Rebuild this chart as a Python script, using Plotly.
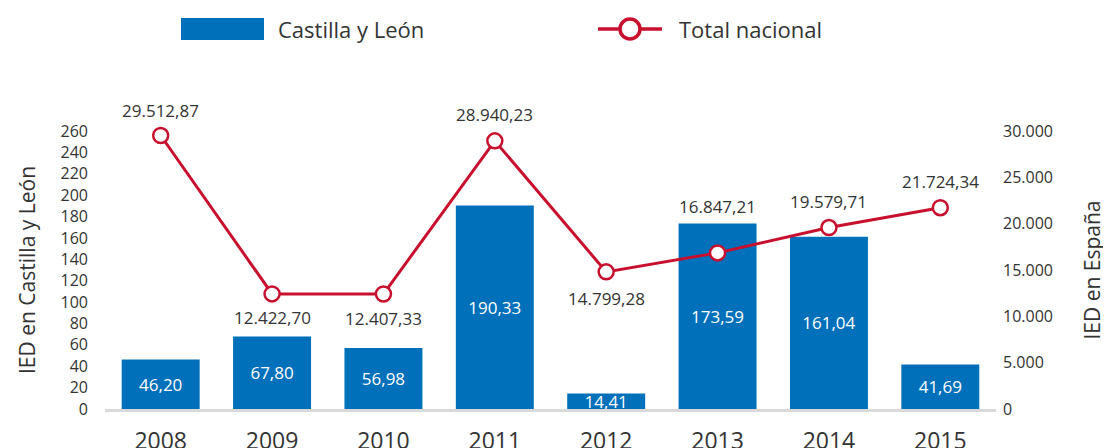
import plotly.graph_objects as go

years = ["2008", "2009", "2010", "2011", "2012", "2013", "2014", "2015"]
cyl_values = [46.20, 67.80, 56.98, 190.33, 14.41, 173.59, 161.04, 41.69]
total_values = [29512.87, 12422.70, 12407.33, 28940.23, 14799.28, 16847.21, 19579.71, 21724.34]
left_ticks = list(range(0, 261, 20))
right_ticks = [0, 5000, 10000, 15000, 20000, 25000, 30000]

def es_num(v, dec=2):
    s = f"{v:,.{dec}f}"
    return s.replace(",", "X").replace(".", ",").replace("X", ".")

FONT = "Open Sans"
TXT = "#333333"
BLUE = "#0070BA"
RED = "#C8102E"

# label offsets (pixels) for line labels
label_shift = [25, -24, -24, 26, -27, 46, 26, 26]

fig = go.Figure()
fig.add_trace(go.Bar(
    x=years, y=cyl_values, name="Castilla y León",
    marker=dict(color=BLUE, line=dict(width=0)),
    text=[es_num(v) for v in cyl_values],
    textposition="inside", insidetextanchor="middle",
    textfont=dict(color="white", size=17, family=FONT),
    width=0.7, yaxis="y", showlegend=False,
))
fig.add_trace(go.Scatter(
    x=years, y=total_values, name="Total nacional", yaxis="y2",
    mode="lines+markers",
    line=dict(color=RED, width=3),
    marker=dict(symbol="circle", size=15, color="white", line=dict(color=RED, width=2.5)),
    cliponaxis=False, showlegend=False,
))

W, H = 1111, 448
OFF = 8  # page body margin
ml, mr, mt, mb = 97, 123, 123, 47
pw, ph = W - ml - mr, H - mt - mb

def px_x(p):
    return (p - OFF - ml) / pw

def px_y(p):
    return (H - mb - (p - OFF)) / ph

annotations = []
for i, (v, sh) in enumerate(zip(total_values, label_shift)):
    annotations.append(dict(
        x=i, y=v, xref="x", yref="y2", yshift=sh, showarrow=False,
        text=es_num(v), font=dict(size=17, color=TXT, family=FONT),
    ))

# custom legend
annotations.append(dict(x=px_x(276), y=px_y(29), xref="paper", yref="paper", showarrow=False,
                        text="Castilla y León", font=dict(size=22, color=TXT, family=FONT),
                        xanchor="left", yanchor="middle"))
annotations.append(dict(x=px_x(677), y=px_y(29), xref="paper", yref="paper", showarrow=False,
                        text="Total nacional", font=dict(size=22, color=TXT, family=FONT),
                        xanchor="left", yanchor="middle"))

shapes = [
    dict(type="rect", xref="paper", yref="paper",
         x0=px_x(181), x1=px_x(264), y0=px_y(40), y1=px_y(18),
         fillcolor=BLUE, line=dict(width=0)),
    dict(type="line", xref="paper", yref="paper",
         x0=px_x(598), x1=px_x(662), y0=px_y(29), y1=px_y(29),
         line=dict(color=RED, width=3.5)),
    dict(type="circle", xref="paper", yref="paper",
         xsizemode="pixel", ysizemode="pixel",
         xanchor=px_x(630), yanchor=px_y(29),
         x0=-10, x1=10, y0=-10, y1=10,
         fillcolor="white", line=dict(color=RED, width=3.5)),
]

fig.update_layout(
    width=W, height=H,
    margin=dict(l=ml, r=mr, t=mt, b=mb, pad=0, autoexpand=False),
    paper_bgcolor="white", plot_bgcolor="white",
    font=dict(family=FONT, color=TXT),
    bargap=0.3,
    uniformtext=dict(minsize=17, mode="show"),
    xaxis=dict(
        type="category", range=[-0.5, len(years) - 0.5], autorange=False, automargin=False,
        showgrid=False, showline=True, linecolor="#D9D9D9", linewidth=3,
        ticks="", tickfont=dict(size=23, color=TXT, family=FONT), ticklabelstandoff=9,
        zeroline=False,
    ),
    yaxis=dict(
        range=[0, 260], autorange=False, automargin=False,
        tickvals=left_ticks, ticktext=[str(t) for t in left_ticks],
        showgrid=False, zeroline=False, showline=False, ticks="",
        tickfont=dict(size=16, color=TXT, family=FONT), ticklabelstandoff=16,
        title=dict(text="IED en Castilla y León", font=dict(size=21, color=TXT, family=FONT), standoff=19),
    ),
    yaxis2=dict(
        range=[0, 30000], autorange=False, automargin=False, overlaying="y", side="right",
        tickvals=right_ticks, ticktext=[es_num(t, 0) for t in right_ticks],
        showgrid=False, zeroline=False, showline=False, ticks="",
        tickfont=dict(size=16, color=TXT, family=FONT), ticklabelstandoff=6,
        title=dict(text="IED en España", font=dict(size=21, color=TXT, family=FONT), standoff=33),
    ),
    annotations=annotations,
    shapes=shapes,
    showlegend=False,
)

fig.write_html("out.html")
